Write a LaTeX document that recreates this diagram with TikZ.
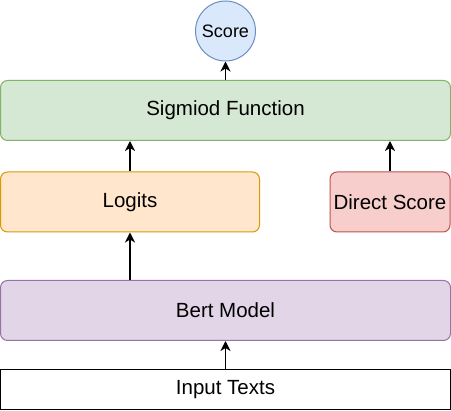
\documentclass[tikz,border=0pt]{standalone}
\usepackage{fontspec}
\setmainfont{Liberation Sans}
\usetikzlibrary{arrows.meta}
\definecolor{gfill}{HTML}{D5E8D4}\definecolor{gline}{HTML}{82B366}
\definecolor{ofill}{HTML}{FFE6CC}\definecolor{oline}{HTML}{D79B00}
\definecolor{rfill}{HTML}{F8CECC}\definecolor{rline}{HTML}{B85450}
\definecolor{pfill}{HTML}{E1D5E7}\definecolor{pline}{HTML}{9673A6}
\definecolor{bfill}{HTML}{DAE8FC}\definecolor{bline}{HTML}{6C8EBF}
\tikzset{
  box/.style={draw, line width=1pt, rounded corners=7pt, inner sep=0pt,
    font=\fontsize{20.5}{23}\selectfont, text=black},
  arr/.style={line width=1.8pt, -{Stealth[length=10pt,width=10pt,inset=3pt]}}
}
\begin{document}
\begin{tikzpicture}[x=1pt,y=-1pt]
\useasboundingbox (0,0) rectangle (451,411);
\node[draw=bline, fill=bfill, circle, line width=1pt, minimum size=60pt, inner sep=0pt,
  font=\fontsize{18}{20}\selectfont] (score) at (225.5,31) {Score};
\node[box, draw=gline, fill=gfill, minimum width=450pt, minimum height=60pt] (sig) at (225.5,110.5) {Sigmiod Function};
\node[box, draw=oline, fill=ofill, minimum width=259pt, minimum height=60pt] (logits) at (130,202) {Logits};
\node[box, draw=rline, fill=rfill, minimum width=120pt, minimum height=60pt] (ds) at (390,202) {Direct Score};
\node[box, draw=pline, fill=pfill, minimum width=450pt, minimum height=60pt] (bert) at (225.5,310.5) {Bert Model};
\node[draw=black, fill=white, line width=1pt, inner sep=0pt, minimum width=450pt, minimum height=40pt,
  font=\fontsize{20.5}{23}\selectfont] (inp) at (225.5,390) {Input Texts};
\draw[arr] (sig.north -| score.south) -- (score.south);
\draw[arr] (logits.north) -- (logits.north |- sig.south);
\draw[arr] (ds.north) -- (ds.north |- sig.south);
\draw[arr] (logits.south |- bert.north) -- (logits.south);
\draw[arr] (inp.north) -- (inp.north |- bert.south);
\end{tikzpicture}
\end{document}
